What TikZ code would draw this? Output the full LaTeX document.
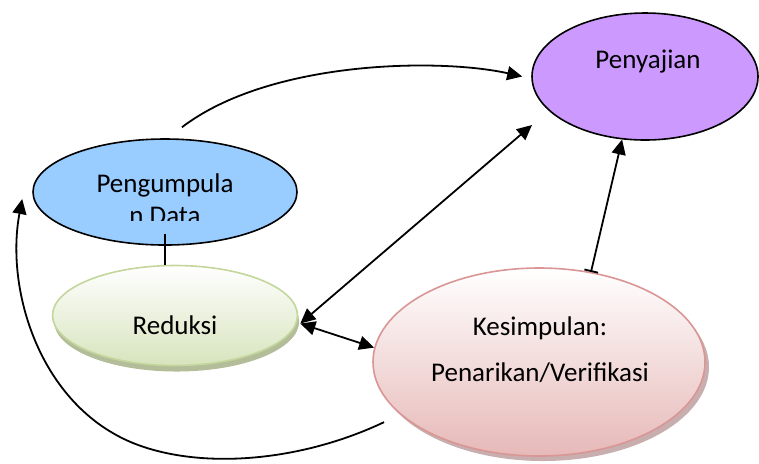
\documentclass[tikz,border=0pt]{standalone}
\usepackage{fontspec}
\setmainfont{Carlito}
\usetikzlibrary{shapes.geometric, arrows.meta, shadows, positioning}
\definecolor{datablue}{RGB}{153,204,255}
\definecolor{sajipurple}{RGB}{204,153,255}
\definecolor{redline}{RGB}{195,214,155}
\definecolor{redfill}{RGB}{215,228,189}
\definecolor{redshadow}{RGB}{160,172,128}
\definecolor{kesline}{RGB}{217,150,148}
\definecolor{kesfill}{RGB}{230,185,184}
\definecolor{kesshadow}{RGB}{176,140,140}

\begin{document}
\begin{tikzpicture}[x=0.5pt, y=-0.5pt,
  stage/.style={ellipse, inner sep=0pt, line width=0.8pt},
  flow/.style={line width=0.9pt, -{Triangle[length=7.5pt,width=7pt]}},
  twoway/.style={line width=0.9pt, {Triangle[length=7.5pt,width=7pt]}-{Triangle[length=7.5pt,width=7pt]}},
  txt/.style={font=\fontsize{13.5}{16}\selectfont, align=center}
]
  \useasboundingbox (0,0) rectangle (759,463);

  % the four stages
  \node[stage, draw=black, fill=datablue, minimum width=132pt, minimum height=53pt] (data) at (165,192) {};
  \node[stage, draw=black, fill=sajipurple, minimum width=113pt, minimum height=63.5pt] (saji) at (645,76.5) {};
  \node[stage, draw=redline, top color=white, bottom color=redfill, minimum width=122.5pt, minimum height=50pt,
        drop shadow={shadow xshift=0.8pt, shadow yshift=-3pt, fill=redshadow, opacity=0.8}] (reduksi) at (175,315.5) {};
  \node[stage, draw=kesline, top color=white, bottom color=kesfill, minimum width=166pt, minimum height=94pt,
        drop shadow={shadow xshift=2pt, shadow yshift=-2.5pt, fill=kesshadow, opacity=0.7}] (kes) at (539,362) {};

  % texts
  \begin{scope}
    \clip (30,140) rectangle (300,220);
    \node[txt] (datatext) at (165,199) {Pengumpula\\n Data};
  \end{scope}
  \node[txt] (sajitext) at (648,62) {Penyajian};
  \node[txt] (reduksitext) at (175,325) {Reduksi};
  \node[txt] (kestext) at (540,350) {Kesimpulan:\\[7pt]Penarikan/Verifikasi};

  % connectors
  \draw[line width=0.9pt] ([yshift=6pt]data.south) -- (data.south |- reduksi.north);
  \draw[flow] ([shift={(17,-11)}]data.north) .. controls (270,60) and (440,58) .. ([xshift=-4.5pt]saji.west);
  \coordinate (redtip) at ([shift={(2,8)}]reduksi.east);
  \draw[twoway] (redtip) -- ([shift={(-113,48.5)}]saji.center);
  \draw[twoway] (redtip) -- (kes.175);
  \draw[line width=0.9pt, {Bar[width=7pt]}-{Triangle[length=7.5pt,width=7pt]}] (kes.60) -- (saji.250);
  \draw[flow] ([xshift=-13pt]kes.205) .. controls (300,462) and (200,470) .. (133,443)
    .. controls (40,405) and (5,290) .. ([shift={(-10,7)}]data.west);
\end{tikzpicture}
\end{document}
